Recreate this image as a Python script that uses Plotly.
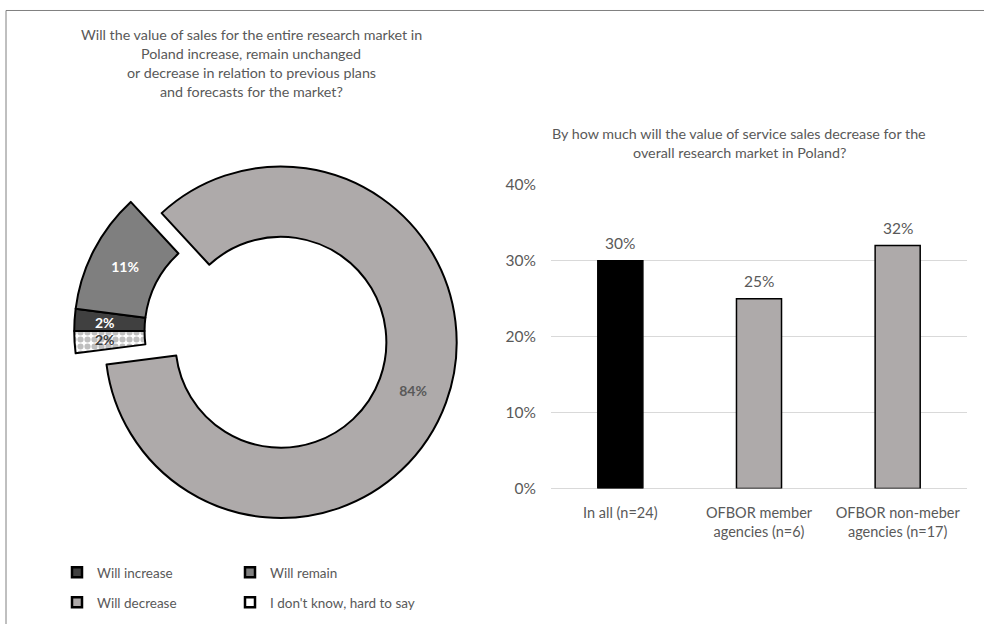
import math
import plotly.graph_objects as go

# ---------------- data ----------------
pie_labels = ["Will increase", "Will remain", "Will decrease", "I don't know, hard to say"]
pie_values = [2, 11, 84, 2]
pie_colors = ["#404040", "#7F7F7F", "#AEAAAA", "#FFFFFF"]
pie_text_colors = ["#FFFFFF", "#FFFFFF", "#595959", "#404040"]
pie_pull = [0, 0, 0.187, 0]
pie_plotly_text = [False, True, True, False]   # thin slices get their labels placed below

bar_categories = ["In all (n=24)", "OFBOR member<br>agencies (n=6)", "OFBOR non-meber<br>agencies (n=17)"]
bar_values = [0.30, 0.25, 0.32]
bar_colors = ["#000000", "#AEAAAA", "#AEAAAA"]

y_tick_values = [0, 0.1, 0.2, 0.3, 0.4]
y_tick_labels = ["0%", "10%", "20%", "30%", "40%"]

left_title_lines = [
    "Will the value of sales for the entire research market in",
    "Poland increase, remain unchanged",
    "or decrease in relation to previous plans",
    "and forecasts for the market?",
]
right_title_lines = [
    "By how much will the value of service sales decrease for the",
    "overall research market in Poland?",
]

# ---------------- layout helpers ----------------
W, H = 984, 624
FONT = "Lato, 'Open Sans', sans-serif"
GREY_TEXT = "#595959"
V_SCALE, V_OFF = 0.972, 10.0   # vertical correction measured from the rendered page


def px(x):
    return x / W


def vy(y):
    """target pixel row -> paper y"""
    return 1 - ((y - V_OFF) / V_SCALE) / H


fig = go.Figure()

# donut geometry (target pixels)
cx, cy, r_outer, hole = 250, 331.3, 181, 0.6
rotation = -90
cy_d = (cy - V_OFF) / V_SCALE
half = r_outer * (1 + max(pie_pull))
fig.add_trace(go.Pie(
    labels=pie_labels,
    values=pie_values,
    sort=False,
    direction="clockwise",
    rotation=rotation,
    hole=hole,
    pull=pie_pull,
    text=[f"{v}%" for v in pie_values],
    textinfo="text",
    texttemplate="<b>%{text}</b>",
    textposition=["inside" if s else "none" for s in pie_plotly_text],
    insidetextorientation="horizontal",
    textfont=dict(family=FONT, size=14, color=pie_text_colors),
    marker=dict(
        colors=pie_colors,
        line=dict(color="#000000", width=2),
        pattern=dict(
            shape=["", "", "", "."],
            fgcolor="#BFBFBF",
            bgcolor="#FFFFFF",
            size=7,
            solidity=0.6,
        ),
    ),
    domain=dict(x=[px(cx - half), px(cx + half)],
                y=[1 - (cy_d + half) / H, 1 - (cy_d - half) / H]),
    showlegend=False,
    hoverinfo="label+value",
))

# bars
fig.add_trace(go.Bar(
    x=bar_categories,
    y=bar_values,
    marker=dict(color=bar_colors, line=dict(color="#000000", width=1.5)),
    showlegend=False,
    xaxis="x",
    yaxis="y",
    hovertemplate="%{y:.0%}<extra></extra>",
))

# legend entries (one legend per entry for exact placement)
legend_positions = [(57, 573), (230, 573), (57, 603), (230, 603)]
legend_names = ["legend", "legend2", "legend3", "legend4"]
for name, color, lg in zip(pie_labels, pie_colors, legend_names):
    fig.add_trace(go.Scatter(
        x=[None], y=[None], mode="markers", name=name,
        marker=dict(symbol="square", size=10, color=color, line=dict(color="#000000", width=2.5)),
        legend=lg, xaxis="x", yaxis="y", hoverinfo="skip",
    ))

legend_cfg = {}
for lg, (lx, ly) in zip(legend_names, legend_positions):
    legend_cfg[lg] = dict(
        x=px(lx), y=vy(ly), xanchor="left", yanchor="middle",
        font=dict(family=FONT, size=13.5, color=GREY_TEXT),
        bgcolor="rgba(0,0,0,0)", itemwidth=30, itemclick=False, itemdoubleclick=False,
    )

annotations = []
# labels of the two thin slices, placed at mid-ring on each slice bisector
total = sum(pie_values)
r_mid = r_outer * (1 + hole) / 2
start = rotation
for v, show_plotly, col in zip(pie_values, pie_plotly_text, pie_text_colors):
    mid = math.radians(start + 360 * v / total / 2)
    start += 360 * v / total
    if show_plotly:
        continue
    lx = cx + r_mid * math.sin(mid)
    ly_d = cy_d - r_mid * math.cos(mid)
    annotations.append(dict(
        x=px(lx), y=1 - ly_d / H, xref="paper", yref="paper", text=f"<b>{v}%</b>",
        showarrow=False, xanchor="center", yanchor="middle",
        font=dict(family=FONT, size=14, color=col),
    ))

# bar value labels
for c, v in zip(bar_categories, bar_values):
    annotations.append(dict(
        x=c, y=v, xref="x", yref="y", text=f"{round(v * 100)}%", showarrow=False,
        yshift=17.5, font=dict(family=FONT, size=15.5, color=GREY_TEXT),
    ))
# titles, one annotation per line
for i, line in enumerate(left_title_lines):
    annotations.append(dict(
        x=px(251), y=vy(35 + i * 18.7), xref="paper", yref="paper", text=line,
        showarrow=False, xanchor="center", yanchor="middle",
        font=dict(family=FONT, size=14.3, color=GREY_TEXT),
    ))
for i, line in enumerate(right_title_lines):
    annotations.append(dict(
        x=px(739), y=vy(134 + i * 18.7), xref="paper", yref="paper", text=line,
        showarrow=False, xanchor="center", yanchor="middle",
        font=dict(family=FONT, size=14.3, color=GREY_TEXT),
    ))

fig.update_layout(
    width=W, height=H,
    margin=dict(l=0, r=0, t=0, b=0),
    paper_bgcolor="#FFFFFF",
    plot_bgcolor="#FFFFFF",
    font=dict(family=FONT, color=GREY_TEXT),
    bargap=0.675,
    uniformtext=dict(minsize=13, mode="show"),
    xaxis=dict(
        domain=[px(551), px(967)],
        showgrid=False, zeroline=False, showline=False, ticks="",
        tickfont=dict(family=FONT, size=14.5, color=GREY_TEXT),
        ticklabelstandoff=14,
        fixedrange=True,
    ),
    yaxis=dict(
        domain=[vy(489), vy(185)],
        range=[0, 0.4],
        tickvals=y_tick_values,
        ticktext=y_tick_labels,
        showgrid=True, gridcolor="#D9D9D9", gridwidth=1,
        zeroline=True, zerolinecolor="#D9D9D9", zerolinewidth=1,
        showline=False, ticks="",
        tickfont=dict(family=FONT, size=15.5, color=GREY_TEXT),
        ticklabelstandoff=14,
        fixedrange=True,
    ),
    annotations=annotations,
    shapes=[dict(
        type="rect", xref="paper", yref="paper",
        x0=px(6), y0=1 - 0.5 / H, x1=1.05, y1=-0.05,
        line=dict(color="#808080", width=1), fillcolor="rgba(0,0,0,0)", layer="above",
    )],
    **legend_cfg,
)

fig.write_html(
    "out.html",
    config={"displayModeBar": False},
    post_script=(
        "document.body.style.margin='0';"
        "document.body.style.padding='0';"
        "document.documentElement.style.overflow='hidden';"
        "document.body.style.overflow='hidden';"
    ),
)
